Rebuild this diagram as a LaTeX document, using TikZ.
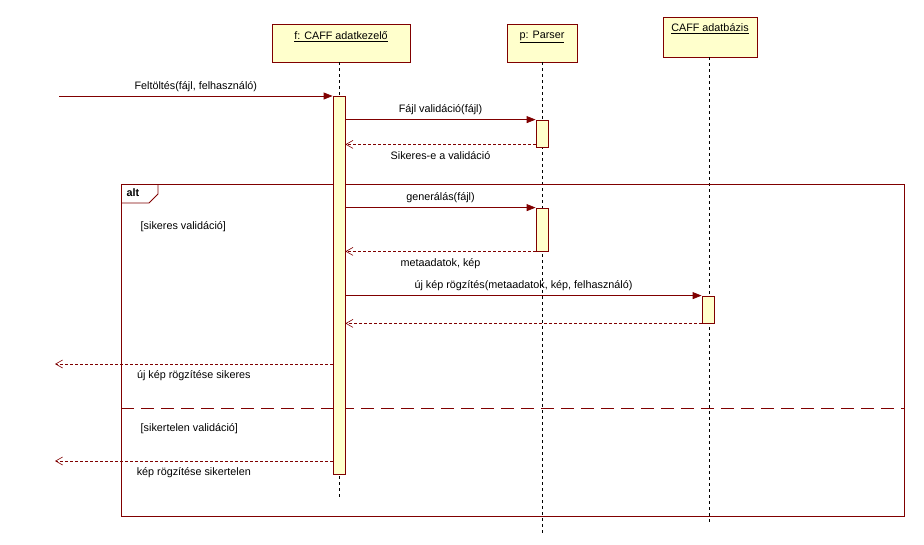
\documentclass[tikz,border=0pt]{standalone}
\usepackage{fontspec}
\setmainfont{Liberation Sans}
\usetikzlibrary{arrows.meta}
\definecolor{umlred}{HTML}{800000}
\definecolor{umlfill}{HTML}{FFFFCC}
\tikzset{
	head/.style={draw=umlred,fill=umlfill,inner sep=0pt},
	act/.style={draw=umlred,fill=umlfill,minimum width=12,inner sep=0pt},
	lifeline/.style={black,dash pattern=on 3pt off 3pt},
	call/.style={umlred,-{Triangle[length=9pt,width=7pt]}},
	ret/.style={umlred,dash pattern=on 3pt off 2pt,-{Straight Barb[length=7pt,width=8pt,line width=0.6pt]}},
	msg/.style={black}
}
\begin{document}
\begin{tikzpicture}[x=1pt,y=-1pt,line width=0.8pt,font=\fontsize{10.8}{12}\selectfont]
		\useasboundingbox (0,0) rectangle (924,544);
		% lifeline heads
		\node[head,minimum width=138,minimum height=38] (fhead) at (341,43) {};
		\node[below=4pt] (ftext) at (fhead.north) {\underline{f: CAFF adatkezelő}};
		\node[head,minimum width=70,minimum height=38] (phead) at (542,43) {};
		\node[below=4pt] (ptext) at (phead.north) {\underline{p: Parser}};
		\node[head,minimum width=94,minimum height=40] (dbhead) at (710,37) {};
		\node[below=3pt] (dbtext) at (dbhead.north) {\underline{CAFF adatbázis}};
		% lifelines
		\coordinate (fend) at (339,500);
		\coordinate (pend) at (542,535);
		\coordinate (dbend) at (709,522);
		\draw[lifeline] (fhead.south -| fend) -- (fend);
		\draw[lifeline] (phead.south -| pend) -- (pend);
		\draw[lifeline] (dbhead.south -| dbend) -- (dbend);
		% alt frame
		\begin{scope}[umlred]
			\draw (121,184) rectangle (904,516);
			\draw (121,203) -- (149,203) -- (158,194) -- (158,184);
			\draw[dash pattern=on 13pt off 7pt] (121,408) -- (904,408);
		\end{scope}
		\node[anchor=west,font=\fontsize{10.8}{12}\selectfont\bfseries] (alt) at (123,193) {alt};
		\node[anchor=west] (g1) at (137,227) {[sikeres validáció]};
		\node[anchor=west] (g2) at (137,429) {[sikertelen validáció]};
		% activations
		\node[act,minimum height=378] (fact) at (339,285) {};
		\node[act,minimum height=27] (pact1) at (542,133.5) {};
		\node[act,minimum height=43] (pact2) at (542,229.5) {};
		\node[act,minimum height=27] (dbact) at (708,309.5) {};
		% messages
		\coordinate (user) at (59,96);
		\coordinate (userok) at (55,364);
		\coordinate (userfail) at (55,461);
		\draw[call] (user) -- (user -| fact.west) node[msg,midway,above=1pt]{Feltöltés(fájl, felhasználó)};
		\draw[call] (fact.east |- pact1.north) -- (pact1.north west) node[msg,midway,above=1pt]{Fájl validáció(fájl)};
		\draw[ret] (pact1.south west) ++(0,-3) coordinate (r1) -- (fact.east |- r1) node[msg,midway,below=3pt]{Sikeres-e a validáció};
		\draw[call] (fact.east |- pact2.north) -- (pact2.north west) node[msg,midway,above=1pt]{generálás(fájl)};
		\draw[ret] (pact2.south west) -- (fact.east |- pact2.south) node[msg,midway,below=3pt]{metaadatok, kép};
		\draw[call] (fact.east |- dbact.north) -- (dbact.north west) node[msg,midway,above=1pt]{új kép rögzítés(metaadatok, kép, felhasználó)};
		\draw[ret] (dbact.south west) -- (fact.east |- dbact.south);
		\draw[ret] (fact.west |- userok) -- (userok) node[msg,midway,below=3pt]{új kép rögzítése sikeres};
		\draw[ret] (fact.west |- userfail) -- (userfail) node[msg,midway,below=3pt]{kép rögzítése sikertelen};
	\end{tikzpicture}
\end{document}
